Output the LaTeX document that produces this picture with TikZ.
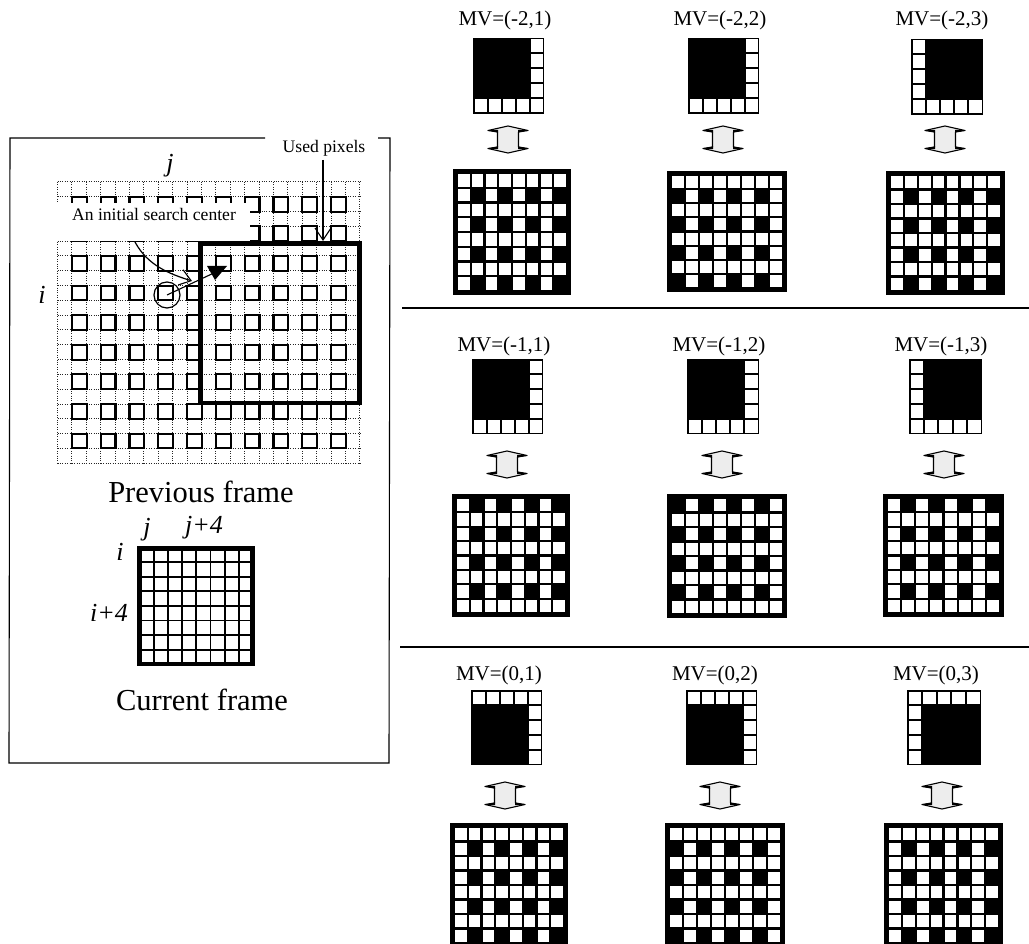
\documentclass[tikz,border=0pt]{standalone}
\usepackage{fontspec}
\setmainfont{Liberation Serif}
\usetikzlibrary{arrows.meta}
\tikzset{
  mvlabel/.style={inner sep=0pt,font=\fontsize{21}{21}\selectfont},
  ital/.style={inner sep=0pt,font=\fontsize{26}{26}\selectfont\itshape},
  captext/.style={inner sep=0pt,font=\fontsize{30.5}{31}\selectfont},
  smalltxt/.style={inner sep=0pt,font=\fontsize{17.6}{18}\selectfont},
  dotline/.style={line width=1pt,dash pattern=on 1pt off 1.4pt,black!85},
  sq/.style={draw=black,line width=2.1pt},
  sep/.style={line width=2.8pt,black},
  dblarrow/.style={draw=black,fill=black!7,line width=1.1pt,line join=round},
  thickframe/.style={draw=black,inner sep=0pt,outer sep=0pt,anchor=north west,line join=miter}
}
% big checker: x0,y0,x1,y1, row parity (rows of this parity are full), col parity (white cols in other rows)
\newcommand{\bigchk}[6]{%
  \fill[black] (#1,#2) rectangle (#3,#4);
  \pgfmathsetmacro{\px}{(#3-#1-10+2.2)/8}
  \pgfmathsetmacro{\py}{(#4-#2-10+2.2)/8}
  \foreach \r in {0,...,7}{\foreach \c in {0,...,7}{%
    \pgfmathtruncatemacro{\rp}{mod(\r,2)}
    \pgfmathtruncatemacro{\cp}{mod(\c,2)}
    \pgfmathtruncatemacro{\show}{(\rp==#5)||(\cp==#6)}
    \ifnum\show=1
      \fill[white] ({#1+5+\c*\px},{#2+5+\r*\py}) rectangle ++({\px-2.2},{\py-2.2});
    \fi
  }}
}
% small block: x0,y0,x1,y1, white row index, white column index
\newcommand{\smallblk}[6]{%
  \fill[black] (#1,#2) rectangle (#3,#4);
  \pgfmathsetmacro{\px}{(#3-#1-3+2)/5}
  \pgfmathsetmacro{\py}{(#4-#2-3+2)/5}
  \foreach \r in {0,...,4}{\foreach \c in {0,...,4}{%
    \pgfmathtruncatemacro{\show}{(\r==#5)||(\c==#6)}
    \ifnum\show=1
      \fill[white] ({#1+1.5+\c*\px},{#2+1.5+\r*\py}) rectangle ++({\px-2},{\py-2});
    \fi
  }}
}
% double arrow: cx, top, bottom
\newcommand{\dbl}[3]{%
  \pgfmathsetmacro{\my}{(#2+#3)/2}
  \begin{scope}[shift={(#1,\my)}]
    \pgfmathsetmacro{\h}{(#3-#2)/2}
    \path[dblarrow] (0,-\h) -- (20,{-\h+4.5}) -- (10.5,{-\h+6}) -- (10.5,{\h-6}) -- (20,{\h-4.5}) -- (0,\h) -- (-20,{\h-4.5}) -- (-10.5,{\h-6}) -- (-10.5,{-\h+6}) -- (-20,{-\h+4.5}) -- cycle;
    \fill (20,{-\h+4.5}) -- (10,{-\h+3.8}) -- (10,{-\h+6.5}) -- cycle;
    \fill (-20,{-\h+4.5}) -- (-10,{-\h+3.8}) -- (-10,{-\h+6.5}) -- cycle;
    \fill (20,{\h-4.5}) -- (10,{\h-3.8}) -- (10,{\h-6.5}) -- cycle;
    \fill (-20,{\h-4.5}) -- (-10,{\h-3.8}) -- (-10,{\h-6.5}) -- cycle;
  \end{scope}
}
\begin{document}
\begin{tikzpicture}[x=1pt,y=-1pt]
\useasboundingbox (0,0) rectangle (1029,944);
\clip (0,0) rectangle (1029,944);
\fill[white] (0,0) rectangle (1029,944);

% ---- left panel frame
\draw[line width=1.1pt] (265,138) -- (10,138) -- (9,763) -- (389,763) -- (390,138) -- (378,138);

% dotted grid
\foreach \k in {0,...,21}{\draw[dotline] ({57.5+\k*14.4},182) -- ({57.5+\k*14.4},463);}
\foreach \k in {0,...,19}{\draw[dotline] (57.5,{182+\k*14.8}) -- (360,{182+\k*14.8});}
% solid squares
\foreach \c in {0,...,9}{\foreach \r in {0,...,8}{%
  \draw[sq] ({57.5+(2*\c+1)*14.4},{182+(2*\r+1)*14.8}) rectangle ++(14.8,14.8);
}}
% white patch behind the label
\fill[white] (40,203) rectangle (250,241.5);
\node[smalltxt] (init) at (154,214) {An initial search center};

% search window
\node[thickframe,line width=4.5pt,minimum width=159pt,minimum height=159.5pt] (win) at (200.5,243.5) {};

% labels
\node[smalltxt] (used) at (324,148) {Used pixels};
\node[ital] (jtop) at (170,166) {j};
\node[ital] (itop) at (42,295) {i};
\coordinate (usedstart) at (323,160);
\coordinate (usedtip) at (323,241);
\draw[line width=1.1pt,-{Straight Barb[length=12pt,width=16pt,line width=1.1pt]}] (usedstart) -- (usedtip);

% search centre
\node[circle,draw=black,line width=1.2pt,minimum size=26pt,inner sep=0pt] (centre) at (167,295) {};
\coordinate (tri) at (216,272);
\draw[line width=1.1pt] (centre.center) -- (tri);
\fill[black] (207,266) -- (227,266) -- (215,280) -- cycle;
\coordinate (curvetip) at (192,281);
\coordinate (curvestart) at (135,242);
\draw[line width=1.2pt,-{Straight Barb[length=11pt,width=16pt,line width=1.1pt]}] (curvestart) .. controls (148,266) and (170,274) .. (curvetip);

\node[captext] (prev) at (201,492) {Previous frame};

% current frame
\foreach \k in {1,...,7}{%
  \draw[line width=1.8pt] ({139.5+\k*14.2},548) -- ({139.5+\k*14.2},664);
  \draw[line width=1.8pt] (139.5,{547.5+\k*14.6}) -- (252.5,{547.5+\k*14.6});
}
\node[thickframe,line width=4.5pt,minimum width=113pt,minimum height=115.5pt] (cur) at (139.5,548.5) {};
\node[ital] (jc) at (147,530) {j};
\node[ital] (jcf) at (204,528) {j+4};
\node[ital] (ic) at (120,552) {i};
\node[ital] (icf) at (109,613) {i+4};
\node[captext] (curlab) at (202,700) {Current frame};

% ---- separators
\coordinate (s1a) at (402,308); \coordinate (s1b) at (1029,308);
\coordinate (s2a) at (400,647); \coordinate (s2b) at (1029,647);
\draw[sep] (s1a) -- (s1b);
\draw[sep] (s2a) -- (s2b);

% ---- row 1
\node[mvlabel] (a1) at (505,20) {MV=(-2,1)};
\node[mvlabel] (a2) at (720,20) {MV=(-2,2)};
\node[mvlabel] (a3) at (942,20) {MV=(-2,3)};
\smallblk{473}{38}{544}{114}{4}{4}
\smallblk{688}{38}{759}{114}{4}{4}
\smallblk{911}{39}{983}{115}{4}{0}
\dbl{508}{126}{153}
\dbl{723}{126}{153}
\dbl{945}{126}{153}
\bigchk{453}{169}{571}{295}{0}{0}
\bigchk{667}{171}{787}{292}{0}{1}
\bigchk{886}{171}{1005}{295}{0}{0}

% ---- row 2
\node[mvlabel] (b1) at (504,346) {MV=(-1,1)};
\node[mvlabel] (b2) at (719,346) {MV=(-1,2)};
\node[mvlabel] (b3) at (941,346) {MV=(-1,3)};
\smallblk{472}{359}{543}{434}{4}{4}
\smallblk{687}{359}{759}{434}{4}{4}
\smallblk{909}{359}{982}{434}{4}{0}
\dbl{507}{451}{478}
\dbl{722}{451}{478}
\dbl{944}{451}{478}
\bigchk{452}{494}{570}{617}{1}{0}
\bigchk{667}{494}{787}{618}{1}{1}
\bigchk{883}{494}{1004}{617}{1}{0}

% ---- row 3
\node[mvlabel] (c1) at (499,675) {MV=(0,1)};
\node[mvlabel] (c2) at (715,675) {MV=(0,2)};
\node[mvlabel] (c3) at (936,675) {MV=(0,3)};
\smallblk{471}{690}{542}{765}{0}{4}
\smallblk{686}{690}{757}{765}{0}{4}
\smallblk{907}{690}{981}{765}{0}{0}
\dbl{505}{782}{809}
\dbl{720}{782}{809}
\dbl{942}{782}{809}
\bigchk{450}{823}{568}{947}{0}{0}
\bigchk{665}{823}{785}{947}{0}{1}
\bigchk{884}{823}{1003}{947}{0}{0}
\end{tikzpicture}
\end{document}
